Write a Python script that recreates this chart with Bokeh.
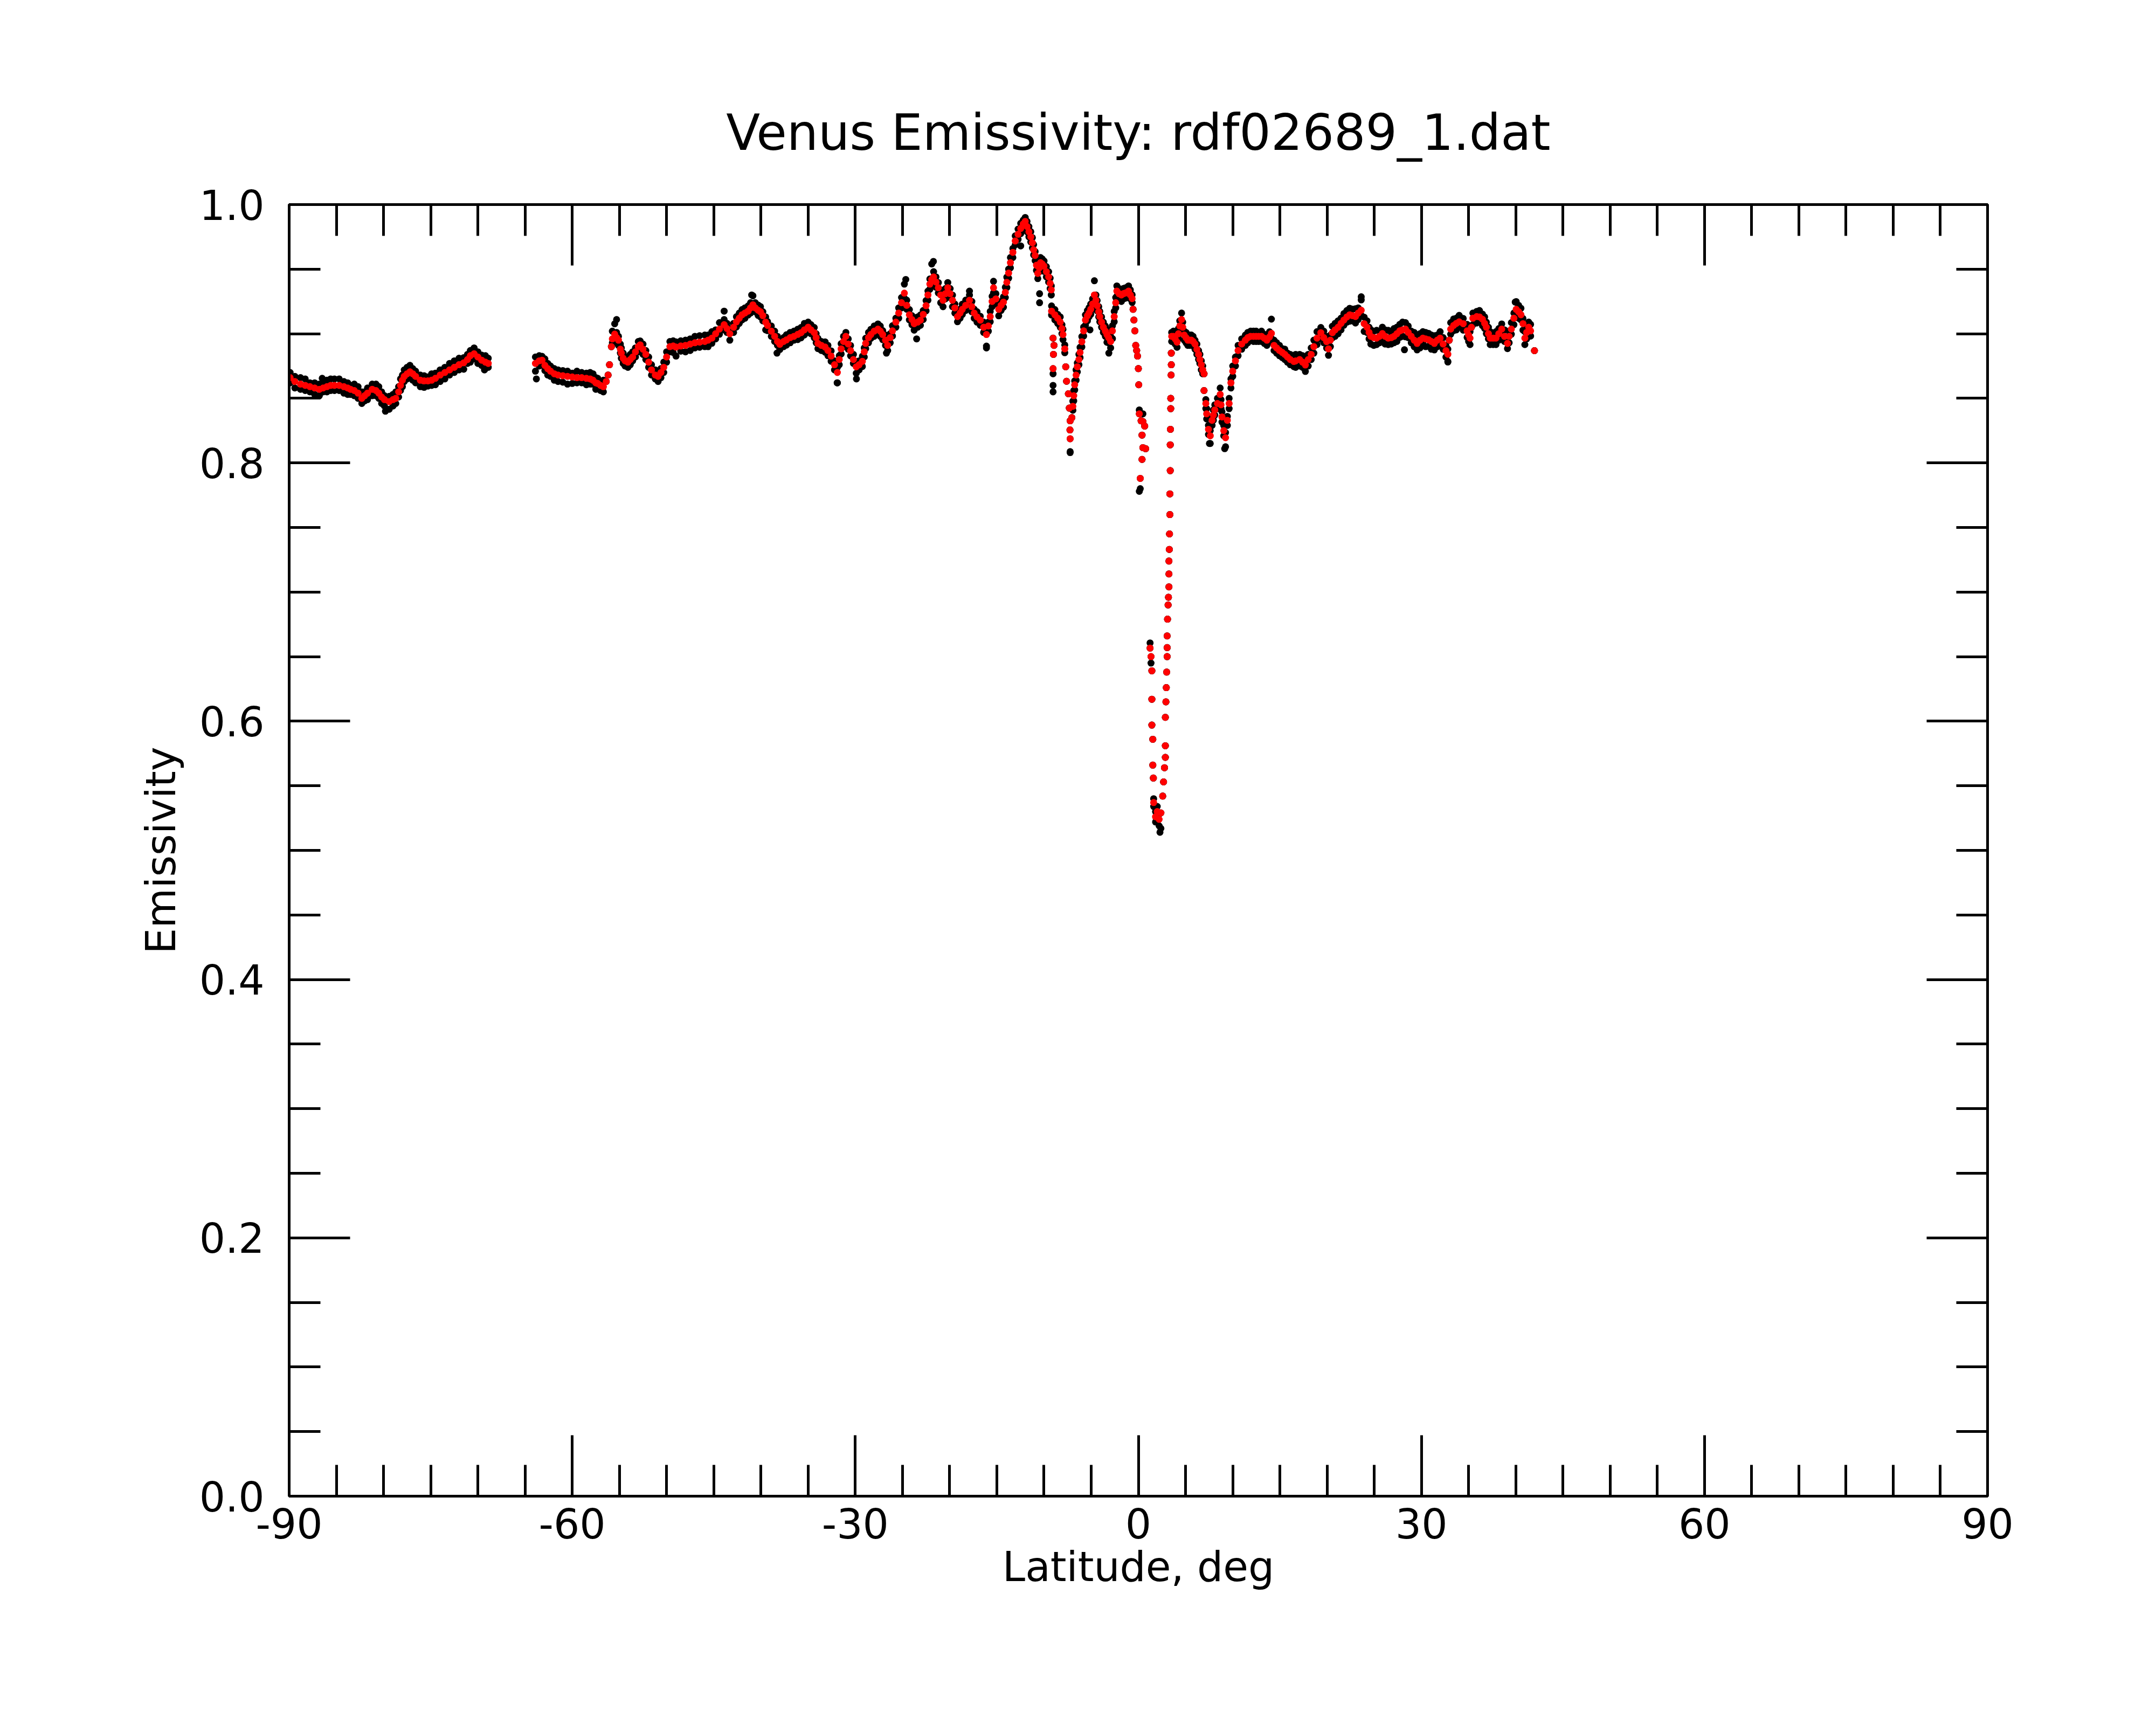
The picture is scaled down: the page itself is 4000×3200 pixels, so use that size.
from bokeh.plotting import figure
from bokeh.models import Range1d, LinearAxis, FixedTicker, PrintfTickFormatter
from bokeh.embed import file_html
from bokeh.resources import INLINE

# ---- data ----
title_text = "Venus Emissivity: rdf02689_1.dat"

# smoothed emissivity (red) at latitude (deg)
red_lat = [
    -89.9, -89.4, -88.8, -88.3, -87.8, -87.3, -86.8, -86.4, -86.0, -85.6,
    -85.2, -84.7, -84.2, -83.8, -83.5, -83.1, -82.7, -82.3, -82.0, -81.7,
    -81.2, -80.8, -80.5, -80.2, -79.9, -79.4, -79.0, -78.7, -78.4, -78.2,
    -78.0, -77.8, -77.5, -77.2, -76.9, -76.6, -76.1, -75.7, -75.3, -74.9,
    -74.5, -74.0, -73.5, -73.0, -72.5, -72.0, -71.5, -71.1, -70.8, -70.4,
    -70.0, -69.6, -69.2, -68.9, -63.9, -63.5, -63.2, -62.9, -62.6, -62.3,
    -61.9, -61.5, -61.0, -60.5, -60.0, -59.5, -59.0, -58.5, -58.1, -57.8,
    -57.5, -57.3, -57.0, -56.7, -56.4, -56.2, -56.05, -55.85, -55.75, -55.5,
    -55.3, -55.1, -54.9, -54.8, -54.6, -54.4, -54.1, -53.85, -53.6, -53.3,
    -53.0, -52.8, -52.5, -52.2, -51.9, -51.6, -51.2, -50.9, -50.6, -50.3,
    -50.0, -49.65, -49.3, -49.0, -48.5, -48.0, -47.5, -47.0, -46.5, -45.95,
    -45.6, -45.2, -44.8, -44.4, -43.9, -43.6, -43.3, -42.9, -42.6, -42.3,
    -42.0, -41.7, -41.36, -41.1, -40.85, -40.6, -40.3, -40.05, -39.8, -39.5,
    -39.3, -38.9, -38.55, -38.25, -38.0, -37.6, -37.3, -36.9, -36.5, -36.1,
    -35.75, -35.4, -35.0, -34.7, -34.35, -34.15, -33.96, -33.6, -33.2, -32.9,
    -32.56, -32.2, -31.9, -31.7, -31.5, -31.25, -31.0, -30.75, -30.5, -30.2,
    -29.9, -29.6, -29.25, -29.05, -28.9, -28.6, -28.35, -28.0, -27.6, -27.35,
    -27.1, -26.8, -26.57, -26.3, -26.06, -25.7, -25.4, -25.1, -24.8, -24.55,
    -24.27, -24.0, -23.76, -23.4, -23.1, -22.8, -22.5, -22.3, -22.1, -21.9,
    -21.7, -21.45, -21.2, -20.95, -20.7, -20.45, -20.2, -19.95, -19.7, -19.45,
    -19.17, -18.9, -18.66, -18.3, -17.9, -17.65, -17.4, -17.1, -16.75, -16.4,
    -16.1, -15.9, -15.7, -15.5, -15.35, -15.1, -14.8, -14.55, -14.3, -14.1,
    -13.94, -13.75, -13.56, -13.3, -13.05, -12.75, -12.47, -12.2, -11.99, -11.8,
    -11.6, -11.4, -11.23, -11.1, -10.94, -10.8, -10.66, -10.5, -10.37, -10.2,
    -10.0, -9.75, -9.51, -9.35, -9.23, -9.2, -9.04, -8.94, -9.0, -9.04,
    -8.85, -8.55, -8.28, -8.1, -7.99, -7.8, -7.7, -7.61, -7.42, -7.32,
    -7.23, -7.25, -7.23, -6.94, -7.05, -6.85, -6.75, -6.6, -6.47, -6.3,
    -6.18, -5.99, -5.8, -5.61, -5.4, -5.23, -5.05, -4.85, -4.66, -4.5,
    -4.37, -4.2, -4.09, -3.9, -3.71, -3.5, -3.33, -3.15, -2.94, -2.75,
    -2.56, -2.4, -2.28, -2.05, -1.8, -1.6, -1.42, -1.2, -1.04, -0.85,
    -0.66, -0.56, -0.47, -0.37, -0.28, -0.18, -0.09, 0.0, 0.04, 0.1,
    0.29, 0.48, 0.67, 0.39, 0.48, 0.77, 0.39, 0.2, 1.24, 1.34,
    1.43, 1.43, 1.43, 1.53, 1.53, 1.59, 1.62, 1.82, 2.0, 2.2,
    2.39, 2.58, 2.67, 2.77, 2.86, 2.86, 2.86, 2.92, 2.96, 3.0,
    3.05, 3.05, 3.05, 3.09, 3.15, 3.19, 3.24, 3.24, 3.24, 3.28,
    3.3, 3.34, 3.34, 3.38, 3.38, 3.4, 3.43, 3.43, 3.47, 3.49,
    3.49, 3.53, 3.72, 3.9, 4.1, 4.25, 4.39, 4.58, 4.7, 4.86,
    5.05, 5.24, 5.43, 5.62, 5.8, 6.0, 6.2, 6.38, 6.52, 6.67,
    6.82, 6.96, 6.96, 7.15, 7.24, 7.43, 7.62, 7.81, 7.95, 8.1,
    8.38, 8.67, 8.76, 8.86, 9.05, 9.24, 9.43, 9.62, 9.81, 10.0,
    10.29, 10.57, 10.95, 11.34, 11.6, 11.9, 12.2, 12.48, 12.75, 13.05,
    13.35, 13.62, 13.9, 14.1, 14.38, 14.65, 14.95, 15.25, 15.52, 15.8,
    16.1, 16.48, 16.67, 17.09, 17.4, 17.7, 18.0, 18.32, 18.6, 18.93,
    19.34, 19.65, 19.95, 20.15, 20.35, 20.56, 20.85, 21.17, 21.48, 21.78,
    22.1, 22.4, 22.7, 23.01, 23.3, 23.62, 23.93, 24.23, 24.45, 24.64,
    24.95, 25.25, 25.55, 25.86, 26.15, 26.48, 26.8, 27.09, 27.4, 27.7,
    28.0, 28.31, 28.6, 28.92, 29.23, 29.54, 29.85, 30.15, 30.45, 30.76,
    31.05, 31.37, 31.68, 31.98, 32.3, 32.6, 32.8, 32.95, 33.1, 33.41,
    33.7, 34.0, 34.43, 34.84, 35.0, 35.15, 35.3, 35.45, 35.86, 36.15,
    36.47, 36.7, 36.88, 37.1, 37.29, 37.6, 37.9, 38.2, 38.51, 38.8,
    39.12, 39.3, 39.53, 39.8, 40.04, 40.3, 40.55, 40.76, 40.96, 41.15,
    41.37, 41.57, 41.98,
]
red_emis = [
    0.866, 0.863, 0.861, 0.860, 0.859, 0.858, 0.857, 0.858, 0.859, 0.860,
    0.860, 0.860, 0.859, 0.858, 0.857, 0.856, 0.854, 0.850, 0.852, 0.854,
    0.857, 0.856, 0.854, 0.851, 0.849, 0.8475, 0.849, 0.850, 0.855, 0.860,
    0.864, 0.867, 0.869, 0.8705, 0.869, 0.867, 0.864, 0.8635, 0.8635, 0.864,
    0.8655, 0.868, 0.870, 0.872, 0.874, 0.876, 0.8775, 0.880, 0.883, 0.8845,
    0.882, 0.8795, 0.878, 0.877, 0.877, 0.879, 0.8795, 0.8755, 0.873, 0.871,
    0.869, 0.868, 0.8675, 0.867, 0.8665, 0.866, 0.866, 0.8655, 0.865, 0.864,
    0.862, 0.8615, 0.860, 0.859, 0.863, 0.868, 0.876, 0.890, 0.896, 0.8997,
    0.897, 0.895, 0.888, 0.885, 0.881, 0.879, 0.878, 0.880, 0.882, 0.886,
    0.890, 0.8914, 0.888, 0.884, 0.878, 0.872, 0.868, 0.867, 0.870, 0.874,
    0.882, 0.890, 0.8905, 0.8897, 0.8905, 0.891, 0.892, 0.893, 0.8935, 0.894,
    0.895, 0.8966, 0.900, 0.9036, 0.907, 0.904, 0.900, 0.905, 0.9092, 0.912,
    0.9147, 0.916, 0.9175, 0.920, 0.9224, 0.920, 0.9182, 0.917, 0.914, 0.909,
    0.9064, 0.902, 0.898, 0.894, 0.8918, 0.894, 0.8952, 0.897, 0.898, 0.8995,
    0.9008, 0.903, 0.905, 0.903, 0.9008, 0.897, 0.8925, 0.891, 0.8897, 0.887,
    0.8827, 0.876, 0.870, 0.880, 0.8883, 0.894, 0.898, 0.892, 0.8869, 0.880,
    0.8744, 0.876, 0.8786, 0.886, 0.8925, 0.897, 0.8994, 0.902, 0.9036, 0.902,
    0.8994, 0.895, 0.891, 0.897, 0.9022, 0.909, 0.916, 0.924, 0.9314, 0.922,
    0.9147, 0.911, 0.9078, 0.909, 0.9105, 0.915, 0.9217, 0.930, 0.9384, 0.942,
    0.944, 0.940, 0.9356, 0.930, 0.9259, 0.931, 0.9356, 0.931, 0.9259, 0.920,
    0.9133, 0.916, 0.9189, 0.922, 0.9259, 0.921, 0.916, 0.913, 0.9105, 0.905,
    0.8994, 0.906, 0.9133, 0.925, 0.9356, 0.927, 0.9189, 0.922, 0.9245, 0.932,
    0.9398, 0.947, 0.955, 0.963, 0.9718, 0.977, 0.9815, 0.985, 0.987, 0.983,
    0.979, 0.975, 0.9704, 0.965, 0.9606, 0.953, 0.9467, 0.951, 0.955, 0.954,
    0.9523, 0.948, 0.944, 0.939, 0.934, 0.9175, 0.8966, 0.891, 0.884, 0.873,
    0.9147, 0.912, 0.909, 0.904, 0.8994, 0.8883, 0.8744, 0.8632, 0.8535, 0.8424,
    0.8326, 0.8255, 0.8187, 0.8438, 0.835, 0.852, 0.8605, 0.868, 0.8744, 0.880,
    0.8855, 0.8938, 0.9022, 0.9106, 0.914, 0.9161, 0.919, 0.923, 0.930, 0.926,
    0.9217, 0.917, 0.9133, 0.909, 0.905, 0.902, 0.8994, 0.897, 0.894, 0.9022,
    0.9133, 0.924, 0.933, 0.931, 0.930, 0.931, 0.9314, 0.932, 0.933, 0.930,
    0.9272, 0.9189, 0.9106, 0.9022, 0.891, 0.887, 0.8827, 0.873, 0.8605, 0.838,
    0.8326, 0.832, 0.8285, 0.8215, 0.8118, 0.811, 0.8027, 0.788, 0.6566, 0.650,
    0.639, 0.617, 0.597, 0.586, 0.566, 0.556, 0.537, 0.526, 0.530, 0.524,
    0.529, 0.542, 0.553, 0.564, 0.572, 0.581, 0.603, 0.615, 0.626, 0.638,
    0.650, 0.657, 0.666, 0.679, 0.690, 0.696, 0.704, 0.714, 0.724, 0.733,
    0.745, 0.760, 0.776, 0.794, 0.814, 0.826, 0.842, 0.850, 0.868, 0.876,
    0.885, 0.898, 0.898, 0.896, 0.8935, 0.900, 0.906, 0.911, 0.905, 0.899,
    0.897, 0.895, 0.895, 0.895, 0.894, 0.892, 0.888, 0.884, 0.880, 0.876,
    0.872, 0.869, 0.856, 0.846, 0.838, 0.826, 0.821, 0.833, 0.837, 0.841,
    0.846, 0.853, 0.845, 0.8356, 0.825, 0.8195, 0.833, 0.846, 0.862, 0.871,
    0.879, 0.887, 0.892, 0.895, 0.897, 0.898, 0.898, 0.898, 0.898, 0.898,
    0.8965, 0.895, 0.8975, 0.9003, 0.891, 0.889, 0.887, 0.8855, 0.884, 0.882,
    0.880, 0.8785, 0.879, 0.880, 0.878, 0.8758, 0.880, 0.884, 0.890, 0.8966,
    0.9008, 0.897, 0.8939, 0.8883, 0.895, 0.9008, 0.903, 0.905, 0.908, 0.9106,
    0.913, 0.9147, 0.914, 0.9133, 0.916, 0.9182, 0.9078, 0.905, 0.901, 0.898,
    0.897, 0.8966, 0.898, 0.9001, 0.898, 0.8966, 0.897, 0.898, 0.900, 0.9022,
    0.903, 0.9036, 0.901, 0.898, 0.895, 0.8925, 0.895, 0.8966, 0.896, 0.8953,
    0.894, 0.8925, 0.895, 0.8966, 0.892, 0.8869, 0.8841, 0.895, 0.9036, 0.9064,
    0.908, 0.9092, 0.9078, 0.9022, 0.899, 0.8966, 0.905, 0.912, 0.9133, 0.913,
    0.9112, 0.908, 0.905, 0.900, 0.8966, 0.8966, 0.8966, 0.900, 0.9036, 0.898,
    0.8925, 0.898, 0.9036, 0.912, 0.9189, 0.917, 0.9147, 0.9078, 0.8966, 0.901,
    0.905, 0.9022, 0.8869,
]
# raw measurements (black) minus smoothed value at the same latitudes: first pass
black_resid = [
    0.004, -0.005, 0.005, -0.004, 0.003, -0.005, 0.004, -0.003, 0.005, -0.004,
    0.005, -0.004, 0.004, -0.005, 0.003, -0.004, 0.005, -0.004, 0.003, -0.005,
    0.004, -0.004, 0.005, -0.005, 0.003, -0.006, 0.004, -0.004, 0.004, -0.004,
    0.004, -0.004, 0.005, -0.004, 0.004, -0.005, 0.004, -0.005, 0.003, -0.004,
    0.004, -0.005, 0.004, -0.004, 0.005, -0.004, 0.004, -0.003, 0.004, 0.003,
    0.004, -0.004, 0.005, -0.003, -0.006, 0.004, 0.003, -0.004, 0.004, -0.004,
    0.004, -0.005, 0.004, -0.006, 0.003, -0.004, 0.004, -0.005, 0.005, -0.003,
    0.004, -0.004, 0.003, -0.004, 0.0, 0.0, 0.0, 0.0, 0.006, 0.008,
    -0.004, 0.003, -0.003, 0.004, -0.004, 0.003, -0.004, 0.004, -0.003, 0.003,
    0.004, 0.003, -0.004, 0.003, -0.004, 0.004, -0.003, -0.004, 0.003, -0.004,
    -0.004, 0.004, -0.005, -0.007, 0.004, -0.005, 0.004, -0.004, 0.005, -0.004,
    0.004, -0.004, 0.003, -0.004, 0.004, -0.003, -0.005, 0.003, -0.004, 0.004,
    -0.004, 0.004, -0.003, 0.004, 0.007, -0.003, 0.004, -0.004, 0.003, -0.006,
    0.003, -0.004, 0.004, -0.003, -0.004, 0.003, -0.004, 0.004, -0.003, 0.004,
    -0.004, 0.005, 0.004, -0.003, -0.004, 0.003, -0.004, 0.003, -0.004, 0.004,
    -0.004, 0.003, -0.008, 0.003, -0.004, 0.004, 0.003, -0.004, 0.004, -0.003,
    -0.005, 0.003, -0.004, 0.003, -0.004, 0.004, -0.003, 0.004, 0.004, -0.004,
    0.003, -0.004, -0.004, 0.003, -0.004, 0.003, -0.004, 0.004, 0.007, -0.003,
    -0.004, 0.003, -0.005, 0.004, -0.004, 0.003, -0.004, 0.003, -0.004, 0.012,
    0.004, -0.004, 0.004, -0.006, -0.005, 0.004, 0.004, -0.003, -0.005, 0.003,
    -0.004, 0.003, 0.004, -0.004, 0.004, -0.004, 0.003, -0.004, 0.003, -0.004,
    -0.009, 0.003, -0.004, 0.004, 0.005, -0.004, -0.005, 0.003, -0.004, 0.004,
    -0.004, 0.003, -0.004, 0.003, -0.003, 0.004, -0.004, 0.003, 0.003, -0.004,
    0.004, -0.004, 0.004, -0.004, 0.003, -0.004, 0.004, -0.003, 0.004, -0.004,
    0.004, -0.004, 0.004, -0.004, 0.003, 0.004, 0.0, 0.0, 0.0, -0.004,
    0.004, 0.003, -0.004, 0.003, -0.004, 0.003, 0.0, 0.0, 0.0, 0.0,
    0.0, 0.0, -0.010, 0.004, 0.0, -0.004, 0.003, -0.004, 0.003, -0.004,
    0.004, -0.004, 0.003, -0.004, 0.004, -0.003, 0.004, -0.004, 0.011, -0.003,
    0.004, -0.004, 0.004, -0.004, 0.004, -0.004, -0.006, 0.004, -0.005, -0.006,
    0.004, -0.004, 0.004, -0.004, -0.005, 0.004, -0.004, 0.004, 0.004, -0.003,
    0.003, 0.0, 0.0, 0.0, 0.0, 0.0, 0.0, 0.0, 0.0, 0.003,
    0.0, 0.0, 0.0, 0.0, 0.0, 0.0, 0.0, -0.008, 0.004, -0.005,
    0.0, 0.0, 0.0, 0.0, 0.0, 0.0, 0.003, -0.004, 0.004, -0.005,
    -0.012, 0.0, 0.0, 0.0, 0.0, 0.0, 0.0, 0.0, 0.0, 0.0,
    0.0, 0.0, 0.0, 0.0, 0.0, 0.0, 0.0, 0.0, 0.0, 0.0,
    0.0, 0.0, 0.0, 0.0, 0.0, 0.0, 0.0, 0.0, 0.0, 0.0,
    0.0, 0.003, -0.004, 0.004, -0.004, 0.004, 0.004, 0.005, -0.004, 0.003,
    -0.004, 0.003, -0.004, 0.004, -0.003, 0.003, -0.004, 0.003, -0.003, 0.003,
    -0.003, 0.0, 0.0, 0.003, -0.004, 0.003, -0.006, 0.003, -0.004, 0.004,
    -0.004, 0.005, -0.003, 0.004, -0.004, -0.007, 0.003, -0.004, 0.003, -0.004,
    0.003, -0.004, 0.004, -0.004, 0.004, -0.003, 0.004, -0.004, 0.003, -0.004,
    0.003, -0.004, 0.004, 0.011, -0.004, 0.004, -0.004, 0.003, -0.004, 0.003,
    -0.004, 0.004, -0.005, 0.004, -0.004, -0.005, 0.004, -0.004, 0.005, 0.005,
    0.004, -0.004, 0.004, -0.005, 0.004, -0.004, 0.005, -0.005, 0.004, 0.005,
    -0.004, 0.005, -0.004, 0.006, 0.004, 0.008, -0.006, -0.004, 0.004, -0.006,
    0.005, -0.005, 0.004, -0.006, 0.005, -0.005, 0.004, -0.005, 0.005, 0.005,
    -0.005, 0.005, -0.004, 0.004, -0.005, -0.005, 0.005, -0.004, 0.005, -0.005,
    0.005, -0.005, 0.004, 0.005, -0.004, 0.004, -0.006, 0.0, 0.005, -0.004,
    0.004, -0.004, 0.004, -0.005, 0.004, -0.005, 0.0, 0.004, 0.004, -0.004,
    0.004, -0.004, 0.004, -0.004, -0.005, 0.004, -0.005, 0.004, 0.004, -0.004,
    -0.004, 0.004, -0.004, 0.004, 0.006, 0.005, -0.004, 0.004, -0.005, 0.004,
    0.004, -0.004, 0.0,
]
# second pass of raw measurements (black) minus smoothed value
black_resid2 = [
    -0.004, 0.004, -0.004, 0.005, -0.004, 0.004, -0.005, 0.004, -0.004, 0.005,
    -0.004, 0.005, -0.005, 0.004, -0.004, 0.005, -0.004, 0.005, -0.004, 0.004,
    -0.005, 0.005, -0.004, 0.004, -0.005, 0.004, -0.005, 0.005, -0.004, 0.005,
    -0.005, 0.005, -0.004, 0.005, -0.005, 0.004, -0.005, 0.004, -0.004, 0.005,
    -0.005, 0.004, -0.005, 0.005, -0.004, 0.005, -0.005, 0.004, -0.005, -0.004,
    -0.005, 0.004, -0.004, 0.004, 0.005, -0.004, -0.004, 0.005, -0.005, 0.004,
    -0.005, 0.004, -0.005, 0.004, -0.005, 0.005, -0.004, 0.004, -0.004, 0.005,
    -0.005, 0.004, -0.004, 0.005, 0.0, 0.0, 0.0, 0.0, -0.003, -0.003,
    0.004, -0.004, 0.004, -0.004, 0.004, -0.004, 0.004, -0.004, 0.004, -0.004,
    -0.004, -0.004, 0.004, -0.004, 0.004, -0.004, 0.004, 0.004, -0.004, 0.004,
    0.004, -0.004, 0.004, 0.004, -0.004, 0.004, -0.005, 0.005, -0.004, 0.005,
    -0.005, 0.005, -0.004, 0.005, -0.004, 0.004, 0.004, -0.004, 0.004, -0.004,
    0.004, -0.004, 0.004, -0.004, -0.003, 0.004, -0.004, 0.004, -0.004, 0.004,
    -0.004, 0.004, -0.004, 0.004, 0.004, -0.004, 0.004, -0.004, 0.004, -0.004,
    0.004, -0.004, -0.004, 0.004, 0.004, -0.004, 0.004, -0.004, 0.004, -0.004,
    0.004, -0.004, 0.004, -0.004, 0.004, -0.004, -0.004, 0.004, -0.004, 0.004,
    0.004, -0.004, 0.004, -0.004, 0.004, -0.004, 0.004, -0.004, -0.004, 0.004,
    -0.004, 0.004, 0.004, -0.004, 0.004, -0.004, 0.004, -0.004, -0.004, 0.004,
    0.004, -0.004, 0.004, -0.004, 0.004, -0.004, 0.004, -0.004, 0.004, -0.004,
    -0.004, 0.004, -0.004, 0.004, 0.004, -0.004, -0.004, 0.004, 0.004, -0.004,
    0.004, -0.004, -0.004, 0.004, -0.004, 0.004, -0.004, 0.004, -0.004, 0.004,
    0.004, -0.004, 0.004, -0.004, -0.004, 0.004, 0.004, -0.004, 0.004, -0.004,
    0.004, -0.004, 0.004, -0.004, 0.004, -0.004, 0.004, -0.004, -0.004, 0.004,
    -0.004, 0.004, -0.004, 0.004, -0.004, 0.004, -0.004, 0.004, -0.004, 0.004,
    -0.004, 0.004, -0.004, 0.004, -0.004, -0.003, 0.0, 0.0, 0.0, 0.0,
    -0.004, -0.004, 0.004, -0.004, 0.004, -0.003, 0.0, 0.0, 0.0, 0.0,
    0.0, 0.0, 0.0, -0.003, 0.0, 0.004, -0.004, 0.004, -0.004, 0.004,
    -0.004, 0.004, -0.004, 0.004, -0.004, 0.004, -0.004, 0.004, -0.004, 0.004,
    -0.004, 0.004, -0.004, 0.004, -0.004, 0.004, 0.004, -0.004, 0.004, 0.004,
    -0.004, 0.004, -0.004, 0.004, 0.004, -0.004, 0.004, -0.004, -0.004, 0.004,
    -0.003, 0.0, 0.0, 0.0, 0.0, 0.0, 0.0, 0.0, 0.0, 0.0,
    0.0, 0.0, 0.0, 0.0, 0.0, 0.0, 0.0, 0.0, 0.0, 0.0,
    0.0, 0.0, 0.0, 0.0, 0.0, 0.0, -0.003, 0.004, -0.004, 0.004,
    0.0, 0.0, 0.0, 0.0, 0.0, 0.0, 0.0, 0.0, 0.0, 0.0,
    0.0, 0.0, 0.0, 0.0, 0.0, 0.0, 0.0, 0.0, 0.0, 0.0,
    0.0, 0.0, 0.0, 0.0, 0.0, 0.0, 0.0, 0.0, 0.0, 0.0,
    0.0, -0.004, 0.004, -0.004, 0.004, -0.004, -0.004, -0.004, 0.004, -0.004,
    0.004, -0.004, 0.004, -0.004, 0.004, -0.004, 0.004, -0.004, 0.004, -0.004,
    0.003, 0.0, 0.0, -0.004, 0.004, -0.004, 0.004, -0.004, 0.004, -0.004,
    0.004, -0.004, 0.004, -0.004, 0.004, 0.004, -0.004, 0.004, -0.004, 0.004,
    -0.004, 0.004, -0.004, 0.004, -0.004, 0.004, -0.004, 0.004, -0.004, 0.004,
    -0.004, 0.004, -0.004, -0.004, 0.004, -0.004, 0.004, -0.004, 0.004, -0.004,
    0.004, -0.004, 0.005, -0.005, 0.005, 0.004, -0.005, 0.005, -0.005, -0.005,
    -0.005, 0.005, -0.005, 0.004, -0.005, 0.005, -0.005, 0.005, -0.005, -0.004,
    0.005, -0.005, 0.005, -0.005, -0.005, -0.004, 0.005, 0.005, -0.005, 0.005,
    -0.006, 0.006, -0.005, 0.005, -0.006, 0.006, -0.005, 0.006, -0.006, -0.005,
    0.006, -0.006, 0.005, -0.005, 0.006, 0.005, -0.006, 0.005, -0.006, 0.005,
    -0.006, 0.006, -0.005, -0.005, 0.005, -0.005, 0.004, 0.0, -0.004, 0.005,
    -0.005, 0.005, -0.005, 0.005, -0.005, 0.005, 0.0, -0.005, -0.005, 0.005,
    -0.005, 0.005, -0.005, 0.005, 0.005, -0.005, 0.005, -0.005, -0.005, 0.005,
    0.005, -0.005, 0.005, -0.005, -0.004, -0.005, 0.005, -0.005, 0.005, -0.005,
    -0.005, 0.005, 0.0,
]
# isolated raw measurements (black) away from the smoothed curve
black_extra_lat = [-86.5, -79.8, -70.4, -69.3, -63.8, -55.3, -50.9, -43.9, -40.98,
                   -38.3, -31.92, -29.88, -26.7, -24.65, -23.5, -21.72, -17.9, -16.1,
                   -12.47, -10.47, -10.47, -9.04, -9.04, -7.23, -5.13, -3.13,
                   0.1, 0.48, 2.29, 7.53, 9.15, 23.62, 28.2, 32.8, 39.94]
black_extra_emis = [0.8655, 0.840, 0.889, 0.872, 0.865, 0.911, 0.865, 0.9175, 0.930,
                    0.885, 0.862, 0.865, 0.885, 0.942, 0.896, 0.956, 0.933, 0.889,
                    0.968, 0.931, 0.924, 0.860, 0.855, 0.808, 0.903, 0.885,
                    0.778, 0.838, 0.514, 0.815, 0.811, 0.9286, 0.8876, 0.8785, 0.9245]

x_major = [-90, -60, -30, 0, 30, 60, 90]
x_minor = [v for v in range(-85, 90, 5) if v % 30 != 0]
y_major = [0.0, 0.2, 0.4, 0.6, 0.8, 1.0]
y_minor = [0.05, 0.1, 0.15, 0.25, 0.3, 0.35, 0.45, 0.5, 0.55, 0.65, 0.7, 0.75, 0.85, 0.9, 0.95]

n = min(len(red_lat), len(red_emis), len(black_resid), len(black_resid2))
black_lat = red_lat[:n] + red_lat[:n] + black_extra_lat
black_emis = ([r + d for r, d in zip(red_emis[:n], black_resid[:n])]
              + [r + d for r, d in zip(red_emis[:n], black_resid2[:n])]
              + black_extra_emis)

FONT = "DejaVu Sans"

p = figure(width=3984, height=3184, output_backend="svg", toolbar_location=None,
           x_range=Range1d(-90, 90), y_range=Range1d(0, 1),
           min_border_left=536, min_border_right=297, min_border_top=379, min_border_bottom=409,
           title=title_text,
           x_axis_label="Latitude, deg", y_axis_label="Emissivity")
p.grid.visible = False
p.background_fill_color = "white"
p.border_fill_color = "white"
p.outline_line_color = "black"
p.outline_line_width = 5

p.title.align = "center"
p.title.text_font = FONT
p.title.text_font_size = "92px"
p.title.text_font_style = "normal"
p.title.text_color = "black"
p.title.standoff = 160

xt = FixedTicker(ticks=x_major, minor_ticks=x_minor)
yt = FixedTicker(ticks=y_major, minor_ticks=y_minor)


def style(ax, show_labels, standoff):
    ax.axis_line_width = 5
    ax.axis_line_color = "black"
    ax.major_tick_in = 113
    ax.major_tick_out = 0
    ax.minor_tick_in = 58
    ax.minor_tick_out = 0
    ax.major_tick_line_width = 5
    ax.minor_tick_line_width = 5
    ax.major_tick_line_color = "black"
    ax.minor_tick_line_color = "black"
    ax.major_label_text_font = FONT
    ax.major_label_standoff = standoff
    ax.axis_label_text_font = FONT
    ax.axis_label_text_font_size = "76px"
    ax.axis_label_text_font_style = "normal"
    ax.axis_label_text_color = "black"
    if show_labels:
        ax.major_label_text_font_size = "76px"
        ax.major_label_text_color = "black"
    else:
        ax.major_label_text_font_size = "1px"
        ax.major_label_text_color = None


bx = p.xaxis[0]
bx.ticker = xt
bx.formatter = PrintfTickFormatter(format="%d")
style(bx, True, 22)
bx.axis_label_standoff = 5

ly = p.yaxis[0]
ly.ticker = yt
ly.formatter = PrintfTickFormatter(format="%.1f")
style(ly, True, 46)
ly.axis_label_standoff = 24
ly.major_label_orientation = "horizontal"

tx = LinearAxis(ticker=xt)
style(tx, False, 0)
p.add_layout(tx, "above")

ry = LinearAxis(ticker=yt)
style(ry, False, 0)
p.add_layout(ry, "right")

p.scatter(black_lat, black_emis, size=13, marker="circle",
          fill_color="black", line_color=None)
p.scatter(red_lat[:n], red_emis[:n], size=13, marker="circle",
          fill_color="#ff0000", line_color=None)

open("out.html", "w").write(file_html(p, INLINE))
